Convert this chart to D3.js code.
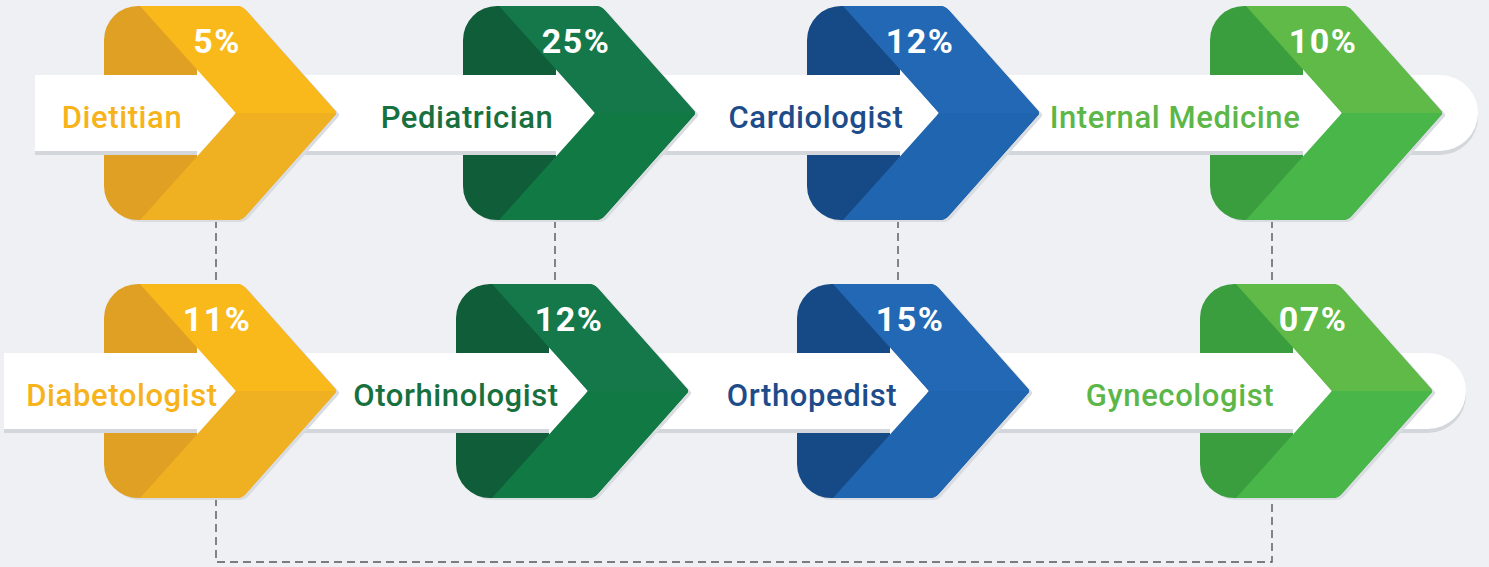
<!DOCTYPE html>
<html>
<head>
<meta charset="utf-8">
<script src="https://cdn.jsdelivr.net/npm/d3@7"></script>
<style>
  html, body { margin: 0; padding: 0; background: #eef0f4; }
  svg { display: block; }
</style>
</head>
<body>
<script>
// data
var topLabels = ["Dietitian", "Pediatrician", "Cardiologist", "Internal Medicine"];
var topValues = ["5%", "25%", "12%", "10%"];
var bottomLabels = ["Diabetologist", "Otorhinologist", "Orthopedist", "Gynecologist"];
var bottomValues = ["11%", "12%", "15%", "07%"];

// colour per column: dark, light top, light bottom, text
var darkColors = ["#e0a023", "#0f5d39", "#164a86", "#3a9e3e"];
var lightTopColors = ["#f9b91a", "#15784a", "#2368b4", "#5fba47"];
var lightBottomColors = ["#efb022", "#117a44", "#2065b0", "#49b649"];
var textColors = ["#f6b31b", "#18703f", "#1e4c8a", "#5cb748"];

var width = 1489;
var height = 567;

// layout of the two rows
var rows = [
  { labels: topLabels, values: topValues, top: 6, bandStart: 35, bandEnd: 1478,
    lefts: [104, 463, 807, 1210], labelX: [122, 467, 816, 1175] },
  { labels: bottomLabels, values: bottomValues, top: 284, bandStart: 4, bandEnd: 1466,
    lefts: [104, 456, 797, 1200], labelX: [122, 456, 812, 1180] }
];
var connectorX = [216, 555, 898, 1272];
var H = 214;      // chevron height
var bandHalf = 38;

var svg = d3.select("body")
            .append("svg")
            .attr("width", width)
            .attr("height", height);

svg.append("rect")
   .attr("width", width)
   .attr("height", height)
   .attr("fill", "#eef0f4");

var defs = svg.append("defs");

// polygon with rounded corners
function roundedPoly(pts, radii) {
  var p = d3.path();
  var n = pts.length;
  var a = pts[n - 1], b = pts[0];
  p.moveTo((a[0] + b[0]) / 2, (a[1] + b[1]) / 2);
  for (var i = 0; i < n; i++) {
    var c = pts[i], nx = pts[(i + 1) % n];
    p.arcTo(c[0], c[1], nx[0], nx[1], radii[i]);
  }
  p.closePath();
  return p.toString();
}

function outerShape(L, T) {
  var cy = T + H / 2;
  return roundedPoly(
    [[L, T], [L + 138, T], [L + 233, cy], [L + 138, T + H], [L, T + H]],
    [34, 12, 3, 12, 34]);
}

// dashed connectors
var dash = svg.append("g")
   .attr("fill", "none")
   .attr("stroke", "#555")
   .attr("stroke-width", 1.4)
   .attr("stroke-dasharray", "8,5");

connectorX.forEach(function(x) {
  dash.append("line")
      .attr("x1", x).attr("x2", x)
      .attr("y1", rows[0].top + H).attr("y2", rows[1].top);
});
dash.append("path")
    .attr("d", "M" + connectorX[0] + "," + (rows[1].top + H) +
               "V562H" + connectorX[3] + "V" + (rows[1].top + H));

rows.forEach(function(row, r) {
  var T = row.top;
  var cy = T + H / 2;
  var g = svg.append("g");

  var x = d3.scaleOrdinal().domain(row.labels).range(row.lefts);
  var lx = d3.scaleOrdinal().domain(row.labels).range(row.labelX);

  // long white band with shadow
  var bandPath = function(dy) {
    return "M" + row.bandStart + "," + (cy - bandHalf + dy) +
           "H" + (row.bandEnd - bandHalf) +
           "A" + bandHalf + "," + bandHalf + " 0 0 1 " + (row.bandEnd - bandHalf) + "," + (cy + bandHalf + dy) +
           "H" + row.bandStart + "Z";
  };
  g.append("path").attr("d", bandPath(4)).attr("fill", "#d3d6da");
  g.append("path").attr("d", bandPath(0)).attr("fill", "#ffffff");

  var items = g.selectAll("g.item")
    .data(row.labels)
    .join("g")
    .attr("class", "item");

  items.each(function(d, i) {
    var L = x(d);
    var it = d3.select(this);
    var id = "clip-" + r + "-" + i;

    defs.append("clipPath").attr("id", id)
        .append("path").attr("d", outerShape(L, T));

    // soft shadow
    it.append("path")
      .attr("d", outerShape(L, T))
      .attr("transform", "translate(3,2)")
      .attr("fill", "#d9dce0");

    it.append("path")
      .attr("d", outerShape(L, T))
      .attr("fill", darkColors[i]);

    // white arrow over the dark part
    var arrow = function(dy) {
      return "M" + (L - 1) + "," + (cy - bandHalf + dy) +
             "H" + (L + 93) + "V" + (cy - 45 + dy) +
             "L" + (L + 132) + "," + (cy + dy) +
             "L" + (L + 93) + "," + (cy + 45 + dy) +
             "V" + (cy + bandHalf + dy) + "H" + (L - 1) + "Z";
    };
    var cl = it.append("g").attr("clip-path", "url(#" + id + ")");
    cl.append("path").attr("d", arrow(4)).attr("fill", "#d3d6da");
    cl.append("path").attr("d", arrow(0)).attr("fill", "#ffffff");

    // light chevron band, two halves
    cl.append("path")
      .attr("d", "M" + (L + 36) + "," + T + "H" + (L + 300) + "V" + cy + "H" + (L + 132) + "Z")
      .attr("fill", lightTopColors[i]);
    cl.append("path")
      .attr("d", "M" + (L + 132) + "," + cy + "H" + (L + 300) + "V" + (T + H) + "H" + (L + 36) + "Z")
      .attr("fill", lightBottomColors[i]);

    // percentage
    it.append("text")
      .attr("x", L + 113)
      .attr("y", T + 47)
      .attr("text-anchor", "middle")
      .attr("font-family", "Roboto, sans-serif")
      .attr("font-weight", 700)
      .attr("font-size", 34)
      .attr("letter-spacing", 1.5)
      .attr("fill", "#ffffff")
      .text(row.values[i]);

    // label
    it.append("text")
      .attr("x", lx(d))
      .attr("y", cy + 15)
      .attr("text-anchor", "middle")
      .attr("font-family", "Roboto, sans-serif")
      .attr("font-weight", 500)
      .attr("font-size", 31)
      .attr("letter-spacing", 0.6)
      .attr("fill", textColors[i])
      .text(d);
  });
});
</script>
</body>
</html>
